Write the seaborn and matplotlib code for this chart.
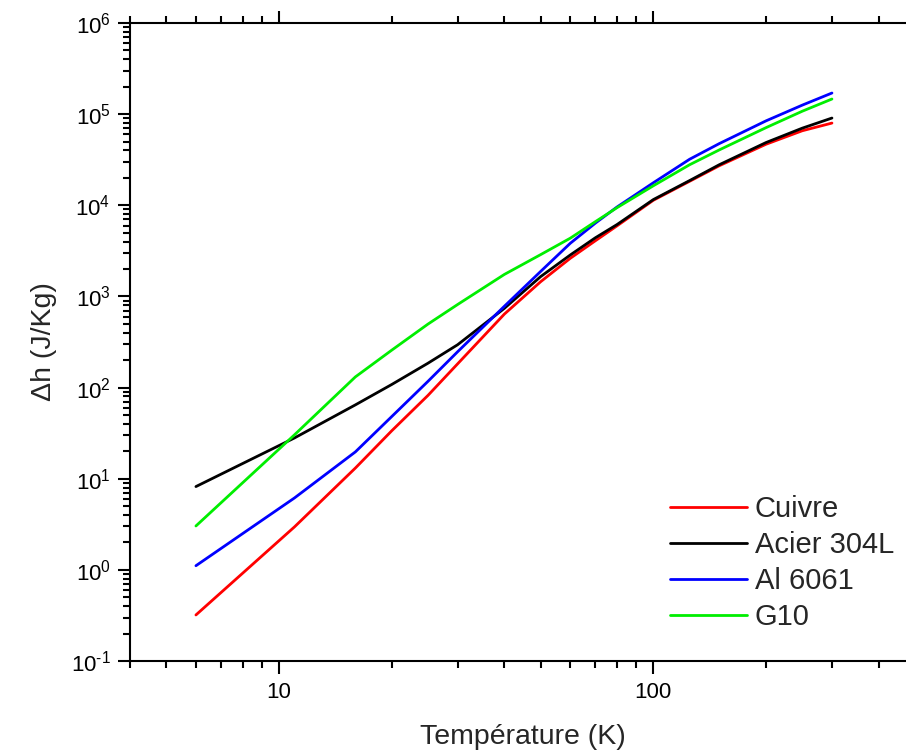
import numpy as np
import pandas as pd
import matplotlib
matplotlib.use("Agg")
import matplotlib.pyplot as plt
import matplotlib.ticker as mticker
import seaborn as sns

# Temperatures (K) and enthalpy differences (J/Kg)
temperature = [6, 11, 16, 20, 25, 30, 40, 50, 60, 70, 80, 100, 125, 150, 200, 250, 300]
cuivre = [0.32, 2.96, 13.1, 33.5, 82, 182, 640, 1450, 2620, 4080, 5950, 11350, 18340, 27150, 46750, 65750, 79800]
acier_304l = [8.2, 28, 64.6, 108, 185, 295, 740, 1650, 2850, 4400, 6150, 11550, 18670, 27850, 48800, 70200, 90600]
al_6061 = [1.11, 6.15, 19.7, 48, 117, 247, 780, 1880, 3830, 6370, 9580, 17660, 32000, 47500, 84400, 125600, 170500]
g10 = [3.03, 30.3, 131, 257, 497, 815, 1743, 2875, 4355, 6610, 9420, 16370, 27850, 40500, 71100, 107700, 146500]

materials = ["Cuivre", "Acier 304L", "Al 6061", "G10"]
colors = ["#ff0000", "#000000", "#0000ff", "#00ee00"]

df = pd.DataFrame({
    "T": temperature * 4,
    "dh": cuivre + acier_304l + al_6061 + g10,
    "mat": np.repeat(materials, len(temperature)),
})

sns.set_theme(style="ticks")
plt.rcParams["font.family"] = ["Liberation Sans", "DejaVu Sans"]
plt.rcParams["mathtext.default"] = "regular"
plt.rcParams["axes.unicode_minus"] = False

fig = plt.figure(figsize=(9.06, 7.52), dpi=100)
# the right edge of the frame falls just outside the picture, as in the original
ax = fig.add_axes([130 / 906, 1 - 661 / 752, 785 / 906, 638 / 752])

sns.lineplot(data=df, x="T", y="dh", hue="mat", hue_order=materials,
             palette=colors, linewidth=2, ax=ax, legend=True)

ax.set_xscale("log")
ax.set_yscale("log")
ax.set_xlim(4, 500)
ax.set_ylim(0.1, 1e6)


def pow10(v, pos):
    k = int(round(np.log10(v)))
    # plain hyphen in the exponent, like the original
    exp = str(k).replace("-", "\u2010")
    return "$10^{%s}$" % exp


ax.xaxis.set_major_locator(mticker.FixedLocator([10, 100]))
ax.xaxis.set_major_formatter(mticker.FixedFormatter(["10", "100"]))
ax.xaxis.set_minor_locator(mticker.LogLocator(base=10, subs=np.arange(2, 10)))
ax.xaxis.set_minor_formatter(mticker.NullFormatter())
ax.yaxis.set_major_locator(mticker.FixedLocator([10.0 ** k for k in range(-1, 7)]))
ax.yaxis.set_major_formatter(mticker.FuncFormatter(pow10))
ax.yaxis.set_minor_locator(mticker.LogLocator(base=10, subs=np.arange(2, 10), numticks=20))
ax.yaxis.set_minor_formatter(mticker.NullFormatter())

ax.tick_params(which="both", direction="out", width=1.5, top=True, right=True,
               colors="black", labelsize=16)
ax.tick_params(which="major", length=9)
ax.tick_params(which="minor", length=5)
ax.tick_params(axis="x", which="major", pad=6)
ax.tick_params(axis="y", which="major", pad=5)
for s in ax.spines.values():
    s.set_linewidth(1.5)
    s.set_color("black")

ax.set_xlabel("Température (K)", fontsize=20.5, labelpad=15)
ax.set_ylabel("Δh (J/Kg)", fontsize=20.5, labelpad=10)

handles, labels = ax.get_legend_handles_labels()
ax.legend(handles, labels, loc="upper left", bbox_to_anchor=(0.688, 0.260),
          frameon=False, fontsize=21, handlelength=2.65, handletextpad=0.25,
          labelspacing=0.27, borderpad=0, borderaxespad=0)

fig.savefig("out.png", dpi=100)
